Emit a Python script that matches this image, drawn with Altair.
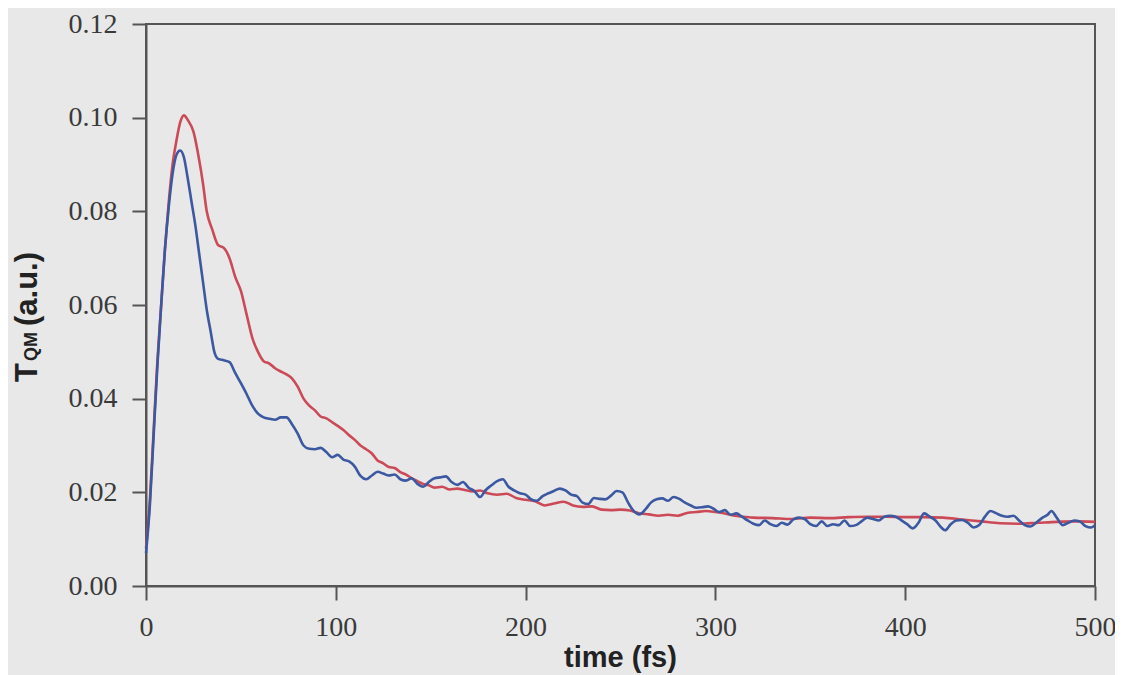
import altair as alt
import pandas as pd

# time (fs) and T_QM (a.u.) for the red curve
red_t = [0, 2, 4, 6, 8, 10, 12, 14, 16, 18, 20, 22, 25, 28, 30, 32, 35, 38, 41, 44,
         47, 50, 53, 56, 59, 62, 65, 68, 71, 74, 77, 80, 83, 86, 89, 92, 95, 98, 101, 104,
         107, 110, 113, 116, 119, 122, 125, 128, 131, 134, 137, 140, 143, 146, 149, 152, 156, 160, 164, 168,
         172, 176, 180, 185, 190, 195, 200, 205, 210, 215, 220, 225, 230, 235, 240, 245, 250, 255, 260, 265,
         270, 275, 280, 285, 290, 295, 300, 305, 310, 315, 320, 330, 340, 350, 360, 370, 380, 390, 400, 410,
         420, 430, 440, 450, 460, 470, 480, 490, 500]
red_y = [0.008, 0.018, 0.033, 0.048, 0.060, 0.072, 0.082, 0.090, 0.095, 0.099, 0.1005, 0.0995, 0.097, 0.091, 0.086, 0.080, 0.076, 0.0728, 0.0722, 0.070,
         0.066, 0.063, 0.058, 0.053, 0.050, 0.048, 0.0475, 0.0465, 0.0458, 0.0452, 0.0443, 0.0425, 0.040, 0.0385, 0.0375, 0.0362, 0.0358, 0.0350, 0.0342, 0.0333,
         0.0322, 0.0312, 0.0300, 0.0292, 0.0283, 0.0268, 0.0262, 0.0254, 0.0252, 0.0243, 0.0238, 0.0230, 0.0224, 0.0218, 0.0215, 0.0210, 0.0212, 0.0206, 0.0208, 0.0205,
         0.0202, 0.0204, 0.0198, 0.0195, 0.0197, 0.0188, 0.0184, 0.0181, 0.0172, 0.0176, 0.0180, 0.0172, 0.0169, 0.0170, 0.0163, 0.0162, 0.0163, 0.0161, 0.0155, 0.0153,
         0.0150, 0.0152, 0.0150, 0.0156, 0.0158, 0.0160, 0.0158, 0.0155, 0.0150, 0.0148, 0.0146, 0.0145, 0.0143, 0.0146, 0.0145, 0.0147, 0.0148, 0.0148, 0.0147, 0.0147,
         0.0146, 0.0142, 0.0138, 0.0134, 0.0133, 0.0135, 0.0137, 0.0138, 0.0137]

# time (fs) and T_QM (a.u.) for the blue curve
blue_t = [0, 2, 4, 6, 8, 10, 12, 14, 16, 18, 20, 22, 24, 26, 28, 30, 32, 34, 36, 38,
          41, 44, 47, 50, 53, 56, 59, 62, 65, 68, 71, 74, 77, 80, 83, 86, 89, 92, 95, 98,
          101, 104, 107, 110, 113, 116, 119, 122, 125, 128, 131, 134, 137, 140, 143, 146, 149, 152, 155, 158,
          161, 164, 167, 170, 173, 176, 179, 182, 185, 188, 191, 194, 197, 200, 203, 206, 209, 212, 215, 218,
          221, 224, 227, 230, 233, 236, 239, 242, 245, 248, 251, 254, 257, 260, 263, 266, 269, 272, 275, 278,
          281, 284, 287, 290, 293, 296, 299, 302, 305, 308, 311, 314, 317, 320, 323, 326, 329, 332, 335, 338,
          341, 344, 347, 350, 353, 356, 359, 362, 365, 368, 371, 374, 377, 380, 383, 386, 389, 392, 395, 398,
          401, 404, 407, 410, 413, 416, 419, 421, 424, 427, 430, 433, 436, 439, 442, 445, 448, 451, 454, 457,
          460, 463, 466, 469, 472, 475, 477, 480, 483, 486, 489, 492, 495, 498, 500]
blue_y = [0.007, 0.017, 0.032, 0.047, 0.060, 0.072, 0.081, 0.088, 0.092, 0.093, 0.0915, 0.087, 0.082, 0.077, 0.071, 0.065, 0.059, 0.0545, 0.050, 0.0485,
          0.0482, 0.0478, 0.0455, 0.0433, 0.0410, 0.0385, 0.0368, 0.0360, 0.0357, 0.0355, 0.0360, 0.0360, 0.0345, 0.0325, 0.0300, 0.0293, 0.0292, 0.0295, 0.0286, 0.0275,
          0.0280, 0.0270, 0.0266, 0.0255, 0.0235, 0.0228, 0.0236, 0.0244, 0.0240, 0.0236, 0.0238, 0.0228, 0.0225, 0.0230, 0.0218, 0.0212, 0.0222, 0.0230, 0.0232, 0.0234,
          0.0222, 0.0216, 0.0222, 0.0210, 0.0203, 0.0190, 0.0205, 0.0215, 0.0224, 0.0228, 0.0212, 0.0204, 0.0198, 0.0195, 0.0185, 0.0182, 0.0192, 0.0198, 0.0203, 0.0208,
          0.0204, 0.0195, 0.0192, 0.0178, 0.0175, 0.0188, 0.0186, 0.0185, 0.0193, 0.0203, 0.0200, 0.0178, 0.0160, 0.0153, 0.0163, 0.0178, 0.0185, 0.0187, 0.0182, 0.0190,
          0.0186, 0.0178, 0.0172, 0.0167, 0.0168, 0.0170, 0.0165, 0.0158, 0.0162, 0.0152, 0.0155, 0.0148, 0.0140, 0.0133, 0.0130, 0.0140, 0.0132, 0.0128, 0.0135, 0.0131,
          0.0142, 0.0146, 0.0143, 0.0132, 0.0128, 0.0138, 0.0128, 0.0132, 0.0130, 0.0140, 0.0128, 0.0130, 0.0138, 0.0146, 0.0143, 0.0140, 0.0148, 0.0150, 0.0148, 0.0140,
          0.0132, 0.0123, 0.0135, 0.0155, 0.0148, 0.0140, 0.0125, 0.0119, 0.0132, 0.0140, 0.0141, 0.0135, 0.0125, 0.0130, 0.0148, 0.0160, 0.0155, 0.0150, 0.0148, 0.0150,
          0.0140, 0.0130, 0.0127, 0.0135, 0.0145, 0.0152, 0.0160, 0.0145, 0.0130, 0.0135, 0.0140, 0.0138, 0.0128, 0.0125, 0.0130]

x_ticks = [0, 100, 200, 300, 400, 500]
y_ticks = [0.00, 0.02, 0.04, 0.06, 0.08, 0.10, 0.12]

df = pd.concat([
    pd.DataFrame({"t": red_t, "v": red_y, "s": "red", "o": range(len(red_t))}),
    pd.DataFrame({"t": blue_t, "v": blue_y, "s": "blue", "o": range(len(blue_t))}),
])

W, H = 949, 562

x = alt.X("t:Q", scale=alt.Scale(domain=[0, 500], nice=False),
          axis=alt.Axis(values=x_ticks, title=None, grid=False, tickSize=14,
                        labelPadding=13, labelFont="Liberation Serif", labelFontSize=28,
                        labelColor="#3a3a3a", domainColor="#555555", tickColor="#555555",
                        domainWidth=2, tickWidth=2, labelFlush=False))
y = alt.Y("v:Q", scale=alt.Scale(domain=[0, 0.12], nice=False),
          axis=alt.Axis(values=y_ticks, format=".2f", title=None, grid=False, tickSize=14,
                        labelPadding=15, labelFont="Liberation Serif", labelFontSize=28,
                        labelColor="#3a3a3a", domainColor="#555555", tickColor="#555555",
                        domainWidth=2, tickWidth=2, labelFlush=False))

lines = alt.Chart(df).mark_line(strokeWidth=2.6, interpolate="monotone").encode(
    x=x, y=y,
    color=alt.Color("s:N", scale=alt.Scale(domain=["red", "blue"], range=["#cc4a57", "#3b58a0"]), legend=None),
    order="o:Q",
    detail="s:N",
)

font_t = "Liberation Sans"
t_main = alt.Chart().mark_text(text="T", angle=270, align="left", baseline="alphabetic",
                               font=font_t, fontWeight="bold", fontSize=31, color="#222222"
                               ).encode(x=alt.value(-109), y=alt.value(358))
t_sub = alt.Chart().mark_text(text="QM", angle=270, align="left", baseline="alphabetic",
                              font=font_t, fontWeight="bold", fontSize=18, color="#222222"
                              ).encode(x=alt.value(-109), y=alt.value(337))
t_unit = alt.Chart().mark_text(text="(a.u.)", angle=270, align="left", baseline="alphabetic",
                               font=font_t, fontWeight="bold", fontSize=31, color="#222222"
                               ).encode(x=alt.value(-109), y=alt.value(302))
x_title = alt.Chart().mark_text(text="time (fs)", align="center", baseline="alphabetic",
                                font=font_t, fontWeight="bold", fontSize=29, color="#222222"
                                ).encode(x=alt.value(W / 2), y=alt.value(643))

chart = alt.layer(lines, t_main, t_sub, t_unit, x_title).properties(
    width=W, height=H,
    autosize="none",
    padding={"left": 138, "top": 16, "right": 20, "bottom": 89},
    background="#e8e8e8",
).configure_view(stroke="#555555", strokeWidth=2)

chart.save("out.html", embed_options={"renderer": "svg", "actions": False})
